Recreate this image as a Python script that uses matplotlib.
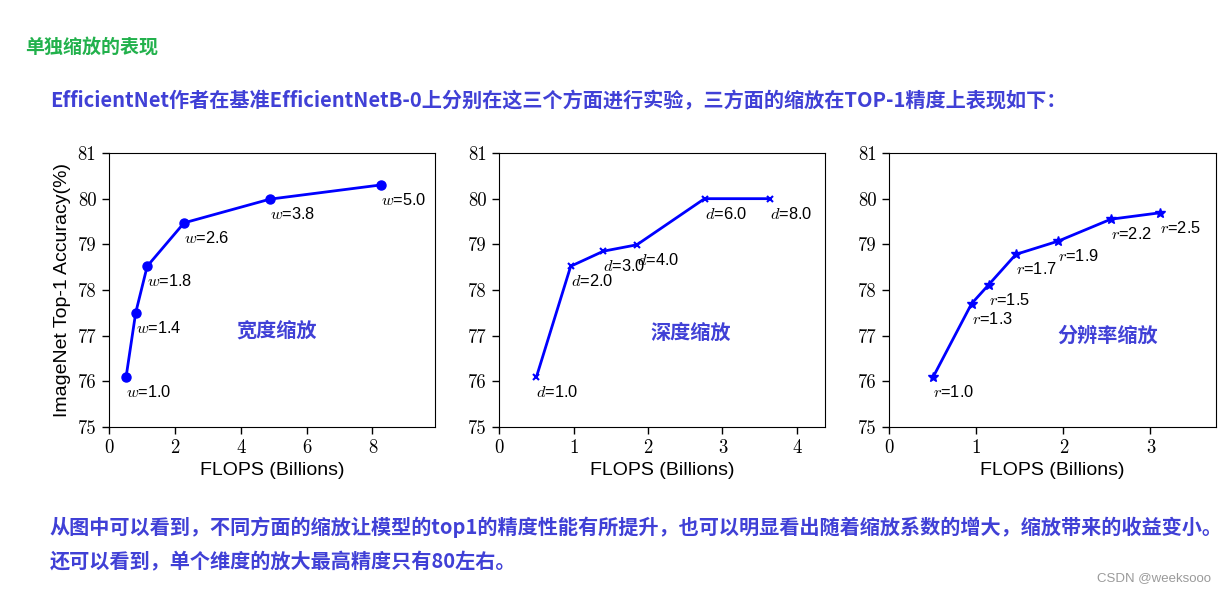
import matplotlib
matplotlib.use("Agg")
import matplotlib.pyplot as plt

plt.rcParams['font.family'] = ['Liberation Sans', 'DejaVu Sans']
plt.rcParams['mathtext.fontset'] = 'cm'
plt.rcParams['axes.unicode_minus'] = False

# ---- data ----
width_flops = [0.52, 0.81, 1.16, 2.28, 4.89, 8.25]
width_acc = [76.1, 77.5, 78.52, 79.47, 79.99, 80.3]
width_labels = ["1.0", "1.4", "1.8", "2.6", "3.8", "5.0"]

depth_flops = [0.50, 0.96, 1.40, 1.85, 2.76, 3.64]
depth_acc = [76.1, 78.52, 78.85, 78.99, 80.0, 80.0]
depth_labels = ["1.0", "2.0", "3.0", "4.0", "6.0", "8.0"]

res_flops = [0.505, 0.945, 1.144, 1.454, 1.94, 2.545, 3.107]
res_acc = [76.1, 77.7, 78.12, 78.78, 79.07, 79.55, 79.69]
res_labels = ["1.0", "1.3", "1.5", "1.7", "1.9", "2.2", "2.5"]

yticks = [75, 76, 77, 78, 79, 80, 81]
xticks_list = [[0, 2, 4, 6, 8], [0, 1, 2, 3, 4], [0, 1, 2, 3]]

heading = "单独缩放的表现"
intro = "EfficientNet作者在基准EfficientNetB-0上分别在这三个方面进行实验，三方面的缩放在TOP-1精度上表现如下："
concl1 = "从图中可以看到，不同方面的缩放让模型的top1的精度性能有所提升，也可以明显看出随着缩放系数的增大，缩放带来的收益变小。"
concl2 = "还可以看到，单个维度的放大最高精度只有80左右。"
panel_titles = ["宽度缩放", "深度缩放", "分辨率缩放"]

W, H = 1226, 592
fig = plt.figure(figsize=(W / 100, H / 100), dpi=100)
fig.patch.set_facecolor('white')

cjk = ['Noto Sans CJK SC', 'DejaVu Sans']
green = '#22b14c'
purple = '#4040d6'

fig.text(25 / W, 1 - 47 / H, heading, family=cjk, fontweight='bold', fontsize=13.7,
         color=green, ha='left', va='center')
fig.text(50 / W, 1 - 101 / H, intro, family=cjk, fontweight='bold', fontsize=14.5,
         color=purple, ha='left', va='center')
fig.text(50 / W, 1 - 527 / H, concl1, family=cjk, fontweight='bold', fontsize=14.5,
         color=purple, ha='left', va='center')
fig.text(50 / W, 1 - 562 / H, concl2, family=cjk, fontweight='bold', fontsize=14.5,
         color=purple, ha='left', va='center')
fig.text(1211 / W, 1 - 578 / H, "CSDN @weeksooo", family=['Liberation Sans'], fontsize=9.5,
         color='#9a9a9a', ha='right', va='center')

lefts = [109, 499.3, 889.3]
widths = [326, 325.7, 326.4]
bottom = 1 - 427 / H
height = (427 - 153) / H
xlims = [(0, 9.9), (0, 4.38), (0, 3.75)]
series = [(width_flops, width_acc, width_labels, 'w', 'o', 6.5),
          (depth_flops, depth_acc, depth_labels, 'd', 'x', 5),
          (res_flops, res_acc, res_labels, 'r', '*', 7)]
title_pos = [(5.1, 77.12), (2.58, 77.08), (2.51, 77.0)]

for i in range(3):
    ax = fig.add_axes([lefts[i] / W, bottom, widths[i] / W, height])
    xs, ys, labs, var, mk, ms = series[i]
    ax.plot(xs, ys, color='#0000ff', lw=2, marker=mk, markersize=ms,
            markeredgewidth=1.5 if mk == 'x' else 1)
    for x, y, l in zip(xs, ys, labs):
        ax.annotate("$%s$=%s" % (var, l), (x, y), xytext=(0, -7),
                    textcoords='offset pixels', ha='left', va='top', fontsize=11.8)
    ax.set_xlim(*xlims[i])
    ax.set_ylim(75, 81)
    ax.set_yticks(yticks)
    ax.set_xticks(xticks_list[i])
    ax.tick_params(direction='out', length=5, width=1, labelsize=13.5, pad=4)
    for lab in ax.get_xticklabels() + ax.get_yticklabels():
        lab.set_fontfamily('cmr10')
    ax.set_xlabel("FLOPS (Billions)", fontsize=14, labelpad=3)
    if i == 0:
        ax.set_ylabel("ImageNet Top-1 Accuracy(%)", fontsize=14, labelpad=5)
    tx, ty = title_pos[i]
    ax.text(tx, ty, panel_titles[i], family=cjk, fontweight='bold', fontsize=14.5,
            color=purple, ha='center', va='center')

fig.savefig("out.png", dpi=100)
